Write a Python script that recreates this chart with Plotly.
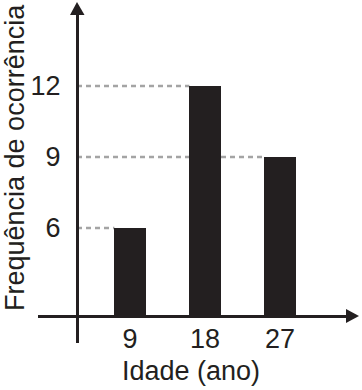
import plotly.graph_objects as go

# Data
ages = [9, 18, 27]
age_labels = ["9", "18", "27"]
freq = [6, 12, 9]
y_ticks = [6, 9, 12]
y_tick_labels = ["6", "9", "12"]

W, H = 362, 390
BASE = 2.28          # value where the horizontal axis crosses
X_CROSS = 2.64       # value where the vertical axis crosses
BAR_W = 3.75
INK = "#231f20"
FONT = "Liberation Sans, Arial, sans-serif"

fig = go.Figure()
fig.add_trace(go.Bar(
    x=ages, y=[f - BASE for f in freq], base=BASE, width=BAR_W,
    marker=dict(color=INK, line=dict(width=0)), hoverinfo="skip",
))

# dashed guide lines from the y axis to each bar
for a, f in zip(ages, freq):
    fig.add_shape(type="line", xref="x", yref="y",
                  x0=X_CROSS, x1=a - BAR_W / 2, y0=f, y1=f,
                  line=dict(color="#a4a4a4", width=2.5, dash="5px,4px"),
                  layer="below")

def px(xp):
    return xp / W

def py(yp):
    return (H - yp) / H

# arrowheads
fig.add_shape(type="path", xref="paper", yref="paper",
              path=f"M {px(77)} {py(2)} L {px(70)} {py(15)} L {px(84.5)} {py(15)} Z",
              fillcolor=INK, line=dict(width=0))
fig.add_shape(type="path", xref="paper", yref="paper",
              path=f"M {px(359)} {py(316)} L {px(346)} {py(309)} L {px(346)} {py(323)} Z",
              fillcolor=INK, line=dict(width=0))

# axis titles
fig.add_annotation(text="Idade (ano)", xref="paper", yref="paper",
                   x=px(191), y=py(371), xanchor="center", yanchor="middle",
                   showarrow=False, font=dict(size=27, color=INK, family=FONT))
fig.add_annotation(text="Frequência de ocorrência", xref="paper", yref="paper",
                   x=px(15), y=py(158), xanchor="center", yanchor="middle",
                   textangle=-90, showarrow=False,
                   font=dict(size=27, color=INK, family=FONT))

fig.update_layout(
    width=W, height=H,
    margin=dict(l=0, r=0, t=0, b=0),
    paper_bgcolor="white", plot_bgcolor="rgba(0,0,0,0)",
    showlegend=False, bargap=0,
    font=dict(family=FONT, color=INK, size=27),
    xaxis=dict(
        domain=[px(38), px(350)],
        range=[-2.04, 9 + (350 - 130) / (75 / 9)],
        anchor="free", position=py(316),
        showline=True, linecolor=INK, linewidth=3,
        showgrid=False, zeroline=False, ticks="",
        tickvals=ages, ticktext=age_labels, ticklabelstandoff=-2,
        tickfont=dict(size=27, color=INK, family=FONT),
    ),
    yaxis=dict(
        domain=[py(343), py(10)],
        range=[12 - (343 - 86) / (71 / 3), 12 + (86 - 10) / (71 / 3)],
        anchor="free", position=px(77),
        showline=True, linecolor=INK, linewidth=3,
        showgrid=False, zeroline=False, ticks="",
        tickvals=y_ticks, ticktext=y_tick_labels, ticklabelstandoff=10,
        tickfont=dict(size=27, color=INK, family=FONT),
    ),
)

fig.write_html("out.html")
